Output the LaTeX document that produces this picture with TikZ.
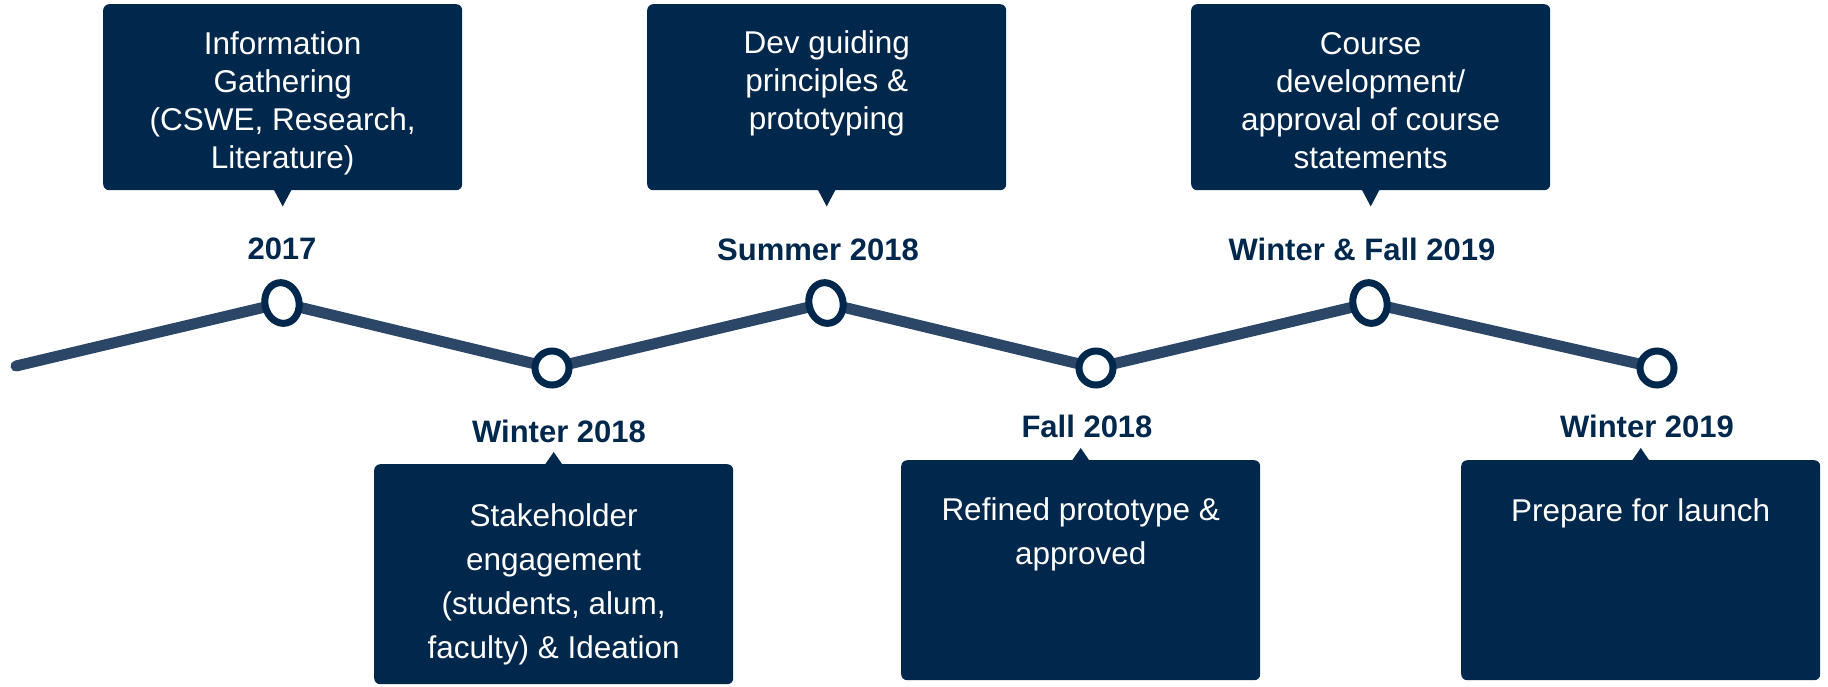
\documentclass[tikz,border=0pt]{standalone}
\usepackage{fontspec}
\setmainfont{Liberation Sans}
\usetikzlibrary{shapes.geometric}
\definecolor{navy}{HTML}{00274C}
\definecolor{linec}{HTML}{2B4666}
\begin{document}
\begin{tikzpicture}[x=1pt,y=-1pt,
  callout/.style={fill=navy, rounded corners=6pt, minimum width=359pt, minimum height=186pt, inner sep=0pt, anchor=north west},
  lowcallout/.style={callout, minimum height=220pt},
  toptext/.style={text=white, align=center, inner sep=0pt, anchor=base, font=\fontsize{31.5}{38.3}\selectfont},
  bottext/.style={text=white, align=center, inner sep=0pt, anchor=base, font=\fontsize{31.5}{44}\selectfont},
  lbl/.style={text=navy, inner sep=0pt, anchor=base, font=\fontsize{31}{36}\selectfont\bfseries},
  tl/.style={draw=linec, line width=11pt, line cap=round, line join=round},
  ring/.style={draw=navy, fill=white, line width=7pt, inner sep=0pt, circle, minimum size=34pt},
  peakring/.style={draw=navy, fill=white, line width=7pt, inner sep=0pt, ellipse, minimum width=34pt, minimum height=41pt, rotate=13}
]
\useasboundingbox (0,0) rectangle (1828,686);
% timeline points
\coordinate (p0) at (16,366);
\coordinate (p1) at (282,303);
\coordinate (p2) at (552,368);
\coordinate (p3) at (826,303);
\coordinate (p4) at (1096,368);
\coordinate (p5) at (1370,303);
\coordinate (p6) at (1657,368);
\draw[tl] (p0) -- (p1) -- (p2) -- (p3) -- (p4) -- (p5) -- (p6);
\node[peakring] (c1) at (p1) {};
\node[ring] (c2) at (p2) {};
\node[peakring] (c3) at (p3) {};
\node[ring] (c4) at (p4) {};
\node[peakring] (c5) at (p5) {};
\node[ring] (c6) at (p6) {};
% top callouts
\node[callout] (b1) at (103,4) {};
\node[callout] (b3) at (647,4) {};
\node[callout] (b5) at (1191,4) {};
\foreach \b in {b1,b3,b5}{
  \fill[navy] ([xshift=-9pt,yshift=1pt]\b.south) -- ([xshift=9pt,yshift=1pt]\b.south) -- ([yshift=-16pt]\b.south) -- cycle;
}
% anchor=base is the baseline of the last line
\node[toptext] (t1) at ([yshift=-164.9pt]b1.north) {Information\\Gathering\\(CSWE, Research,\\Literature)};
\node[toptext] (t3) at ([yshift=-125.6pt]b3.north) {Dev guiding\\principles \&\\prototyping};
\node[toptext] (t5) at ([yshift=-164.9pt]b5.north) {Course\\development/\\approval of course\\statements};
% bottom callouts
\node[lowcallout] (b2) at (374,464) {};
\node[lowcallout] (b4) at (901,460) {};
\node[lowcallout] (b6) at (1461,460) {};
\foreach \b in {b2,b4,b6}{
  \fill[navy] ([xshift=-9pt,yshift=-1pt]\b.north) -- ([xshift=9pt,yshift=-1pt]\b.north) -- ([yshift=12pt]\b.north) -- cycle;
}
\node[bottext] (t2) at ([yshift=-194pt]b2.north) {Stakeholder\\engagement\\(students, alum,\\faculty) \& Ideation};
\node[bottext] (t4) at ([yshift=-104pt]b4.north) {Refined prototype \&\\approved};
\node[bottext] (t6) at ([yshift=-61pt]b6.north) {Prepare for launch};
% date labels
\node[lbl] (l1) at (282,259) {2017};
\node[lbl] (l3) at (818,260) {Summer 2018};
\node[lbl] (l5) at (1362,260) {Winter \& Fall 2019};
\node[lbl] (l2) at (559,442) {Winter 2018};
\node[lbl] (l4) at (1087,437) {Fall 2018};
\node[lbl] (l6) at (1647,437) {Winter 2019};
\end{tikzpicture}
\end{document}
